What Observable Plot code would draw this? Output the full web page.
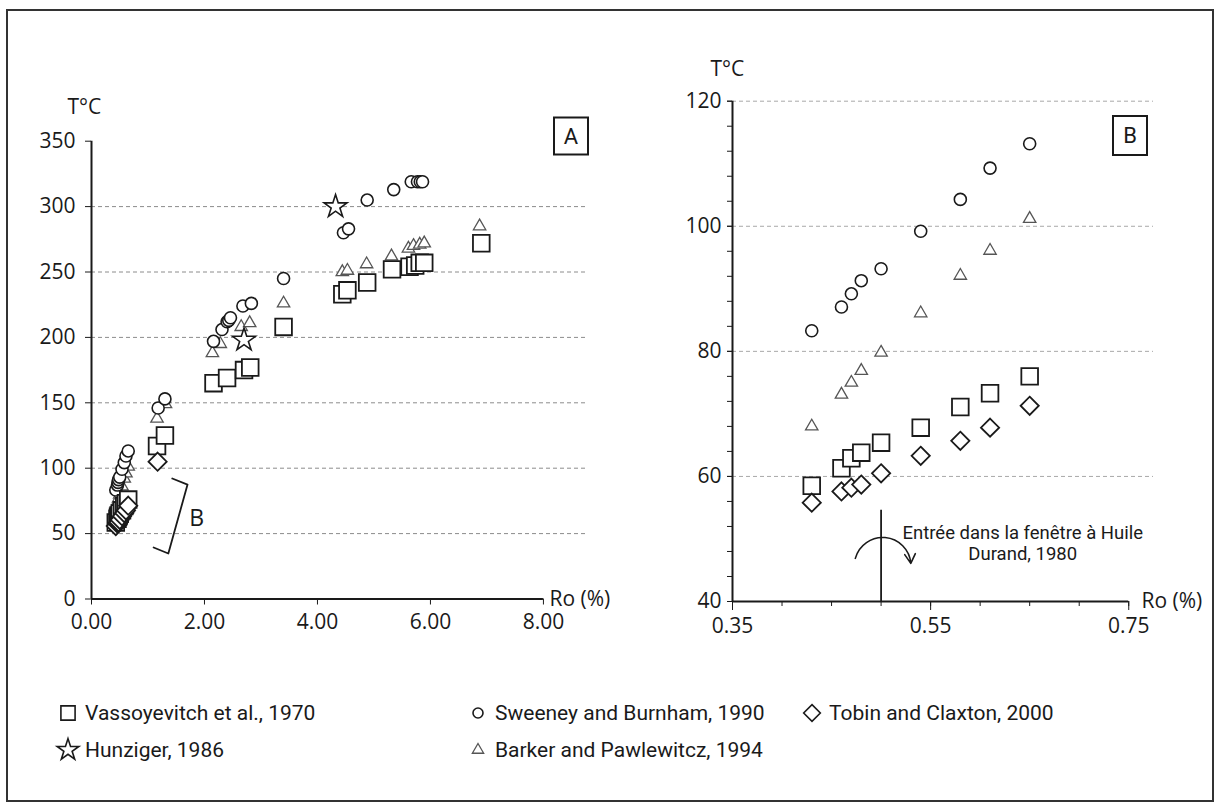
<!DOCTYPE html>
<html><head><meta charset="utf-8">
<script src="https://cdn.jsdelivr.net/npm/d3@7"></script>
<script src="https://cdn.jsdelivr.net/npm/@observablehq/plot@0.6"></script>
<style>
body{margin:0;background:#fff;}
#fig{position:relative;width:1220px;height:808px;overflow:hidden;background:#fff;font-family:"Open Sans",sans-serif;color:#1a1a1a}
#frame{position:absolute;left:6px;top:9px;width:1208px;height:793px;border:2px solid #333;box-sizing:border-box}
#panelA{position:absolute;left:0;top:0}
#panelB{position:absolute;left:620px;top:0}
.leg{position:absolute;display:flex;align-items:center;white-space:nowrap;font-family:Roboto,sans-serif;font-size:21px;color:#1a1a1a;height:30px}
.leg svg{margin-right:7px;overflow:visible}
</style></head>
<body><div id="fig"><div id="frame"></div><div id="panelA"></div><div id="panelB"></div><div id="legend"></div></div>
<script>
// ---------- DATA ----------
// Panel B (low maturity window) – Ro (%) shared by all series
const roB = [0.43, 0.46, 0.47, 0.48, 0.50, 0.54, 0.58, 0.61, 0.65];
const vassT_B    = [58.5, 61.3, 62.9, 63.8, 65.4, 67.8, 71.1, 73.3, 76.0];
const sweeneyT_B = [83.3, 87.1, 89.2, 91.3, 93.2, 99.2, 104.3, 109.3, 113.2];
const barkerT_B  = [68.0, 73.1, 75.0, 76.9, 79.8, 86.1, 92.1, 96.1, 101.2];
const tobinT_B   = [55.8, 57.6, 58.2, 58.7, 60.5, 63.3, 65.7, 67.8, 71.3];

// Panel A (extra, higher-maturity points)
const vassRo_A    = [1.16, 1.30, 2.16, 2.40, 2.70, 2.81, 3.40, 4.44, 4.53, 4.88, 5.32, 5.63, 5.73, 5.81, 5.89, 6.90];
const vassT_A     = [117, 125, 165, 169, 175, 177, 208, 233, 236, 242, 252, 254, 255, 257, 257, 272];
const sweeneyRo_A = [1.18, 1.30, 2.16, 2.31, 2.40, 2.43, 2.46, 2.68, 2.83, 3.40, 4.46, 4.55, 4.88, 5.35, 5.66, 5.77, 5.82, 5.86];
const sweeneyT_A  = [146, 153, 197, 206, 212, 213, 215, 224, 226, 245, 280, 283, 305, 313, 319, 319, 319, 319];
const barkerRo_A  = [1.16, 1.31, 2.14, 2.28, 2.65, 2.80, 3.40, 4.44, 4.53, 4.87, 5.31, 5.61, 5.70, 5.81, 5.89, 6.87];
const barkerT_A   = [138, 149, 188, 195, 208, 211, 226, 250, 251, 256, 262, 268, 270, 271, 272, 285];
const tobinRo_A   = [1.17];
const tobinT_A    = [105];
const hunzigerRo  = [2.70, 4.32];
const hunzigerT   = [198, 300];

// Series names (legend)
const seriesNames = ["Vassoyevitch et al., 1970", "Sweeney and Burnham, 1990", "Tobin and Claxton, 2000", "Hunziger, 1986", "Barker and Pawlewitcz, 1994"];

// Axis ticks / labels
const xTicksA = [0, 2, 4, 6, 8];
const yTicksA = [0, 50, 100, 150, 200, 250, 300, 350];
const gridA   = [50, 100, 150, 200, 250, 300];
const xTicksB = [0.35, 0.55, 0.75];
const xMinorB = [0.35, 0.40, 0.45, 0.50, 0.55, 0.60, 0.65, 0.70, 0.75];
const yTicksB = [40, 60, 80, 100, 120];
const yMinorB = [40, 44, 48, 52, 56, 60, 64, 68, 72, 76, 80, 84, 88, 92, 96, 100, 104, 108, 112, 116, 120];
const gridB   = [60, 80, 100, 120];

// Annotations
const bracketRo = [1.43, 1.70, 1.36, 1.10];
const bracketT  = [92.1, 87.5, 34.8, 39.4];
const oilWindowRo = [0.50];
const oilWindowTop = 54.6;
const oilText = "Entrée dans la fenêtre à Huile\nDurand, 1980";

// ---------- helpers ----------
const zip = (xs, ys) => xs.map((x, i) => ({x, y: ys[i]}));
const ink = "#1a1a1a";
const styles = {
  vass:    {symbol: "square",   r: 9.4, stroke: ink, strokeWidth: 1.8, fill: "white"},
  sweeney: {symbol: "circle",   r: 6,   stroke: ink, strokeWidth: 1.6, fill: "white"},
  barker:  {symbol: "triangle", r: 4.6, stroke: "#555", strokeWidth: 1.3, fill: "white"},
  tobin:   {symbol: "diamond2", r: 8.2, stroke: ink, strokeWidth: 1.8, fill: "white"},
  hunz:    {symbol: "star",     r: 7.2, stroke: ink, strokeWidth: 1.6, fill: "white"}
};
const dots = (data, st) => Plot.dot(data, {x: "x", y: "y", ...st});

const vassA = zip(roB, vassT_B).concat(zip(vassRo_A, vassT_A));
const sweeneyA = zip(roB, sweeneyT_B).concat(zip(sweeneyRo_A, sweeneyT_A));
const barkerA = zip(roB, barkerT_B).concat(zip(barkerRo_A, barkerT_A));
const tobinA = zip(roB, tobinT_B).concat(zip(tobinRo_A, tobinT_A));
const hunzA = zip(hunzigerRo, hunzigerT);

const font = "'Open Sans', sans-serif";

// ---------- Panel A ----------
const chartA = Plot.plot({
  width: 620, height: 650,
  marginLeft: 91, marginRight: 33, marginTop: 140.7, marginBottom: 51.5,
  x: {domain: [0, 8.78]},
  y: {domain: [0, 350]},
  style: {fontFamily: font, fontSize: "21px", color: ink, background: "transparent", overflow: "visible"},
  marks: [
    Plot.ruleY(gridA, {stroke: "#8c8c8c", strokeDasharray: "4,3", strokeWidth: 1}),
    Plot.axisY({ticks: yTicksA, tickSize: 6, tickPadding: 10, fontSize: 21, label: null}),
    Plot.axisX({ticks: xTicksA, tickFormat: d3.format(".2f"), tickSize: 6, tickPadding: 9, fontSize: 21, label: null}),
    Plot.ruleX([0], {y1: 0, y2: 350, stroke: ink, strokeWidth: 2}),
    Plot.ruleY([0], {x1: 0, x2: 8, stroke: ink, strokeWidth: 2}),
    Plot.text(["T°C"], {frameAnchor: "top-left", dx: -24, dy: -34, fontSize: 21, lineAnchor: "middle"}),
    Plot.text(["Ro (%)"], {frameAnchor: "bottom-right", dx: -38, dy: 0, textAnchor: "start", lineAnchor: "middle", fontSize: 21}),
    Plot.line(zip(bracketRo, bracketT), {x: "x", y: "y", stroke: ink, strokeWidth: 1.8}),
    Plot.text([{x: 1.86, y: 61.5}], {x: "x", y: "y", text: () => "B", fontSize: 23}),
    dots(barkerA, styles.barker),
    dots(sweeneyA, styles.sweeney),
    dots(vassA, styles.vass),
    dots(tobinA, styles.tobin),
    dots(hunzA, styles.hunz)
  ]
});

// ---------- Panel B ----------
const lowB = (ys) => zip(roB, ys);
const chartB = Plot.plot({
  width: 600, height: 650,
  marginLeft: 112, marginRight: 67, marginTop: 100.7, marginBottom: 49,
  x: {domain: [0.35, 0.775]},
  y: {domain: [40, 120]},
  style: {fontFamily: font, fontSize: "21px", color: ink, background: "transparent", overflow: "visible"},
  marks: [
    Plot.ruleY(gridB, {stroke: "#a8a8a8", strokeDasharray: "4,3", strokeWidth: 1}),
    Plot.axisY({ticks: yMinorB, tickSize: 5, tickFormat: () => "", label: null}),
    Plot.axisY({ticks: yTicksB, tickSize: 5, tickPadding: 6, fontSize: 21, label: null}),
    Plot.axisX({ticks: xMinorB, tickSize: 5, tickFormat: () => "", label: null}),
    Plot.axisX({ticks: xTicksB, tickSize: 9, tickPadding: 8, tickFormat: d3.format(".2f"), fontSize: 21, label: null}),
    Plot.ruleX([0.35], {y1: 40, y2: 120, stroke: ink, strokeWidth: 2}),
    Plot.ruleY([40], {x1: 0.35, x2: 0.75, stroke: ink, strokeWidth: 2}),
    Plot.text(["T°C"], {frameAnchor: "top-left", dx: -22, dy: -32, fontSize: 21, lineAnchor: "middle"}),
    Plot.text(["Ro (%)"], {frameAnchor: "bottom-right", dx: -12, dy: 0, textAnchor: "start", lineAnchor: "middle", fontSize: 21}),
    Plot.ruleX(oilWindowRo, {y1: 40, y2: oilWindowTop, stroke: ink, strokeWidth: 1.8}),
    Plot.arrow([{x1: 0.474, y1: 46.9, x2: 0.530, y2: 46.1}], {x1: "x1", y1: "y1", x2: "x2", y2: "y2", bend: 80, headLength: 10, stroke: ink, strokeWidth: 1.6}),
    Plot.text([{x: 0.643, y: 49.4}], {x: "x", y: "y", text: () => oilText, fontSize: 18.5, lineHeight: 1.15, fontFamily: "Roboto, sans-serif"}),
    dots(lowB(barkerT_B), styles.barker),
    dots(lowB(sweeneyT_B), styles.sweeney),
    dots(lowB(vassT_B), styles.vass),
    dots(lowB(tobinT_B), styles.tobin)
  ]
});

function addBox(svg, cx, cy, w, h, label) {
  const g = d3.select(svg).append("g");
  g.append("rect").attr("x", cx - w / 2).attr("y", cy - h / 2).attr("width", w).attr("height", h)
    .attr("fill", "white").attr("stroke", ink).attr("stroke-width", 2);
  g.append("text").attr("x", cx).attr("y", cy).attr("text-anchor", "middle").attr("dy", "0.36em")
    .attr("font-size", 22).attr("fill", ink).attr("font-family", "Roboto, sans-serif").text(label);
}
addBox(chartA, 571, 136, 34, 37, "A");
addBox(chartB, 1130 - 620, 135.5, 34, 39, "B");

document.getElementById("panelA").appendChild(chartA);
document.getElementById("panelB").appendChild(chartB);

// ---------- Legend ----------
const legendItems = [
  {name: seriesNames[0], st: styles.vass,    left: 58,  top: 713},
  {name: seriesNames[1], st: styles.sweeney, left: 468, top: 713},
  {name: seriesNames[2], st: styles.tobin,   left: 802, top: 713},
  {name: seriesNames[3], st: styles.hunz,    left: 58,  top: 750},
  {name: seriesNames[4], st: styles.barker,  left: 468, top: 750}
];
const symMap = {square: d3.symbolSquare, circle: d3.symbolCircle, triangle: d3.symbolTriangle, diamond2: d3.symbolDiamond2, star: d3.symbolStar};
const legend = d3.select("#legend");
for (const it of legendItems) {
  const div = legend.append("div").attr("class", "leg").style("left", it.left + "px").style("top", (it.top - 15) + "px");
  const r = it.st.symbol === "circle" ? 5 : it.st.symbol === "triangle" ? 4.2 : it.st.symbol === "square" ? 8 : it.st.symbol === "star" ? 6.8 : 7.5;
  const s = div.append("svg").attr("width", 20).attr("height", 20);
  s.append("path").attr("transform", "translate(10,10)")
    .attr("d", d3.symbol(symMap[it.st.symbol], Math.PI * r * r)())
    .attr("fill", "white").attr("stroke", it.st.stroke).attr("stroke-width", Math.min(it.st.strokeWidth, 1.6));
  div.append("span").text(it.name);
}
</script>
</body></html>
